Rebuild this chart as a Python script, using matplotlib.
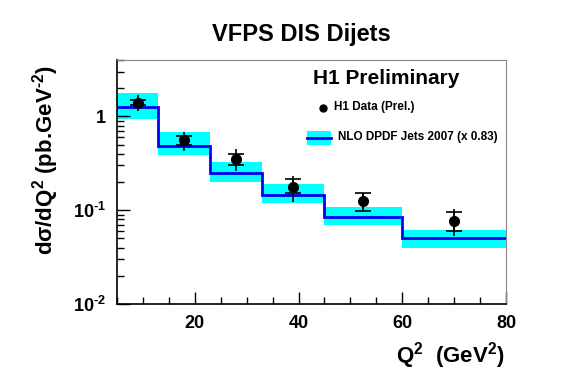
import matplotlib
matplotlib.use("Agg")
import matplotlib.pyplot as plt
import matplotlib.ticker as mticker
from matplotlib.patches import Rectangle
from matplotlib.lines import Line2D
import numpy as np

plt.rcParams['font.family'] = ['Liberation Sans', 'DejaVu Sans']
plt.rcParams['font.weight'] = 'bold'
plt.rcParams['mathtext.fontset'] = 'custom'
plt.rcParams['mathtext.rm'] = 'Liberation Sans:bold'
plt.rcParams['mathtext.bf'] = 'Liberation Sans:bold'
plt.rcParams['mathtext.default'] = 'rm'

# bins in Q^2 (GeV^2)
bin_edges = [5, 13, 23, 33, 45, 60, 80]
# NLO DPDF Jets 2007 (x 0.83) prediction, with uncertainty band
nlo = [1.25, 0.49, 0.25, 0.146, 0.084, 0.050]
nlo_lo = [0.95, 0.385, 0.20, 0.119, 0.069, 0.040]
nlo_hi = [1.80, 0.68, 0.33, 0.19, 0.107, 0.061]

# H1 data (prel.)
q2 = [9, 18, 28, 39, 52.4, 70]
xs = [1.40, 0.556, 0.355, 0.177, 0.126, 0.077]
stat_lo = [1.32, 0.50, 0.30, 0.151, 0.0986, 0.0595]
stat_hi = [1.49, 0.62, 0.394, 0.214, 0.152, 0.096]
tot_lo = [1.13, 0.43, 0.26, 0.121, 0.096, 0.0536]
tot_hi = [1.71, 0.68, 0.446, 0.232, 0.154, 0.102]

fig = plt.figure(figsize=(5.67, 3.84), dpi=100)
ax = fig.add_axes([117/567, 1-304/384, 389/567, 244/384])

# band
for i in range(len(nlo)):
    ax.fill_between([bin_edges[i], bin_edges[i+1]], nlo_lo[i], nlo_hi[i],
                    color='#00ffff', lw=0, zorder=1)
ax.stairs(nlo, bin_edges, baseline=None, color='#0000ee', lw=2, zorder=2)

xs_a = np.array(xs)
ax.errorbar(q2, xs, yerr=[xs_a - np.array(tot_lo), np.array(tot_hi) - xs_a],
            fmt='none', ecolor='black', elinewidth=1.2, capsize=0, zorder=3)
ax.errorbar(q2, xs, yerr=[xs_a - np.array(stat_lo), np.array(stat_hi) - xs_a],
            fmt='o', color='black', ms=7, elinewidth=1.2, capsize=6,
            capthick=1.2, zorder=4)

ax.set_yscale('log')
ax.set_xlim(5, 80)
ax.set_ylim(0.01, 4)

ax.yaxis.set_minor_locator(mticker.LogLocator(base=10, subs=np.arange(2, 10)))
ax.set_yticks([0.01, 0.1, 1])
ax.set_yticklabels([r'$10^{\text{-}2}$', r'$10^{\text{-}1}$', '1'])
ax.yaxis.set_minor_formatter(mticker.NullFormatter())
ax.set_xticks([20, 40, 60, 80])
ax.xaxis.set_minor_locator(mticker.MultipleLocator(5))
ax.tick_params(axis='both', which='major', direction='in', length=9, width=1,
               labelsize=13, pad=8)
ax.tick_params(axis='both', which='minor', direction='in', length=5, width=1)
ax.tick_params(axis='y', which='both', right=False)
ax.tick_params(axis='x', which='both', top=False)
for s in ['top', 'right']:
    ax.spines[s].set_color('#888888')
for s in ['left', 'bottom']:
    ax.spines[s].set_color('black')
    ax.spines[s].set_linewidth(1.2)

fig.text(301/567, 1-34/384, 'VFPS DIS Dijets', ha='center', va='center',
         fontsize=17, fontweight='bold')
fig.text(505/567, 1-356/384, r'Q$^{2}$  (GeV$^{2}$)', ha='right', va='center',
         fontsize=16, fontweight='bold')
fig.text(46/567, 1-160/384, r'dσ/dQ$^{2}$ (pb.GeV$^{\text{-}2}$)', ha='center',
         va='center', rotation=90, fontsize=16, fontweight='bold')

# legend
fig.text(386/567, 1-78/384, 'H1 Preliminary', ha='center', va='center',
         fontsize=15, fontweight='bold')
fig.add_artist(Line2D([323/567], [1-108/384], marker='o', color='black', ms=5))
fig.text(334/567, 1-107/384, 'H1 Data (Prel.)', ha='left', va='center',
         fontsize=8.5, fontweight='bold')
fig.add_artist(Rectangle((307/567, 1-145/384), 24/567, 14/384,
                         transform=fig.transFigure, color='#00ffff', lw=0))
fig.add_artist(Line2D([307/567, 331/567], [1-138/384, 1-138/384],
                      color='#0000ee', lw=2))
fig.text(338/567, 1-137/384, 'NLO DPDF Jets 2007 (x 0.83)', ha='left',
         va='center', fontsize=8.5, fontweight='bold')

fig.savefig('out.png', dpi=100)
